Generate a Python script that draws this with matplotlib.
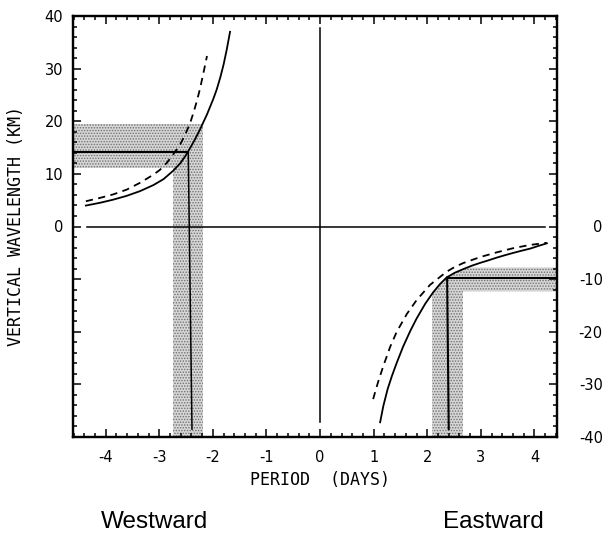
import numpy as np
import matplotlib
matplotlib.use("Agg")
import matplotlib.pyplot as plt
from matplotlib.ticker import MultipleLocator, FixedLocator, FixedFormatter

plt.rcParams['axes.unicode_minus'] = False
plt.rcParams['hatch.linewidth'] = 0.7

# ---- data ----
west_solid_x = [-4.37, -4.10, -3.86, -3.61, -3.36, -3.11, -2.92, -2.74, -2.61, -2.52, -2.46,
                -2.40, -2.33, -2.24, -2.11, -1.99, -1.93, -1.86, -1.80, -1.74, -1.68]
west_solid_y = [3.98, 4.52, 5.10, 5.82, 6.72, 7.87, 9.01, 10.6, 12.0, 13.3, 14.3,
                15.35, 16.65, 18.45, 21.3, 24.3, 26.0, 28.4, 30.8, 33.7, 37.0]
west_dash_x = [-4.37, -4.10, -3.86, -3.61, -3.36, -3.11, -2.99, -2.86, -2.74, -2.61, -2.52,
               -2.43, -2.36, -2.30, -2.24, -2.18, -2.11]
west_dash_y = [4.8, 5.45, 6.1, 7.0, 8.3, 9.85, 10.75, 12.1, 13.7, 15.6, 17.4,
               19.5, 21.7, 23.8, 26.2, 29.0, 32.4]

east_solid_x = [1.12, 1.18, 1.26, 1.34, 1.43, 1.55, 1.68, 1.80, 1.96, 2.11, 2.24, 2.36,
                2.51, 2.67, 2.83, 2.99, 3.15, 3.30, 3.45, 3.61, 3.76, 3.92, 4.07, 4.23]
east_solid_y = [-37.2, -34.1, -30.9, -28.4, -25.9, -22.8, -19.9, -17.5, -14.7, -12.5, -10.9, -9.7,
                -8.8, -8.1, -7.45, -6.9, -6.4, -5.9, -5.45, -5.0, -4.6, -4.2, -3.7, -3.2]
east_dash_x = [0.99, 1.04, 1.09, 1.18, 1.31, 1.43, 1.62, 1.80, 2.05, 2.36, 2.51, 2.67,
               2.99, 3.30, 3.61, 3.92, 4.23]
east_dash_y = [-32.8, -31.0, -29.3, -26.5, -22.8, -20.0, -16.6, -14.0, -11.1, -8.6, -7.7, -6.95,
               -5.8, -4.9, -4.1, -3.5, -3.1]

# observed period / wavelength ranges (shaded) and best estimates
west_period_range = [-2.74, -2.18]
west_lambda_range = [11.2, 19.5]
west_period = [-2.46, -2.39]
west_lambda = 14.2

east_period_range = [2.09, 2.67]
east_lambda_range = [-12.3, -7.8]
east_period = [2.37, 2.40]
east_lambda = -9.7

zero_h_x = [-4.34, 4.2]
zero_v_y = [37.8, -37.2]

x_ticks = [-4, -3, -2, -1, 0, 1, 2, 3, 4]
x_ticklabels = ['-4', '-3', '-2', '-1', '0', '1', '2', '3', '4']
left_ticks = [0, 10, 20, 30, 40]
right_ticks = [0, -10, -20, -30, -40]

XMIN, XMAX = -4.61, 4.42
YMIN, YMAX = -40, 40

# ---- figure ----
fig = plt.figure(figsize=(6.04, 5.34), dpi=100)
ax = fig.add_axes([73/604, 1-437/534, 484/604, 421/534])
ax.set_xlim(XMIN, XMAX)
ax.set_ylim(YMIN, YMAX)

shade = dict(facecolor='#d6d6d6', edgecolor='#707070', hatch='......', linewidth=0, zorder=1)

# westward shaded L-shape
ax.fill_between([XMIN, west_period_range[1]], west_lambda_range[0], west_lambda_range[1], **shade)
ax.fill_between(west_period_range, YMIN, west_lambda_range[0], **shade)

# eastward shaded region, bounded by the solid curve
xe = np.linspace(east_period_range[0], XMAX, 300)
ce = np.interp(xe, east_solid_x, east_solid_y)
xv = xe[xe <= east_period_range[1]]
ax.fill_between(xv, YMIN, np.minimum(east_lambda_range[1], ce[:len(xv)]), **shade)
up = np.minimum(east_lambda_range[1], ce)
ax.fill_between(xe, east_lambda_range[0], up, where=up > east_lambda_range[0], **shade)

lw = 1.3
# zero lines
ax.plot(zero_h_x, [0, 0], color='black', lw=1.1, zorder=3)
ax.plot([0, 0], zero_v_y, color='black', lw=1.1, zorder=3)

# curves
ax.plot(west_solid_x, west_solid_y, color='black', lw=lw, zorder=4)
ax.plot(west_dash_x, west_dash_y, color='black', lw=lw, ls=(0, (4, 3)), zorder=4)
ax.plot(east_solid_x, east_solid_y, color='black', lw=lw, zorder=4)
ax.plot(east_dash_x, east_dash_y, color='black', lw=lw, ls=(0, (4, 3)), zorder=4)

# estimate lines
ax.plot([XMIN, west_period[0]], [west_lambda, west_lambda], color='black', lw=1.5, zorder=4)
ax.plot(west_period, [west_lambda, -38.5], color='black', lw=1.1, zorder=4)
ax.plot([east_period[0], XMAX], [east_lambda, east_lambda], color='black', lw=1.5, zorder=4)
ax.plot(east_period, [east_lambda, -38.5], color='black', lw=1.5, zorder=4)

# spines and ticks
for s in ax.spines.values():
    s.set_linewidth(1.6)
ax.xaxis.set_major_locator(FixedLocator(x_ticks))
ax.xaxis.set_major_formatter(FixedFormatter(x_ticklabels))
ax.xaxis.set_minor_locator(MultipleLocator(0.2))
ax.yaxis.set_minor_locator(MultipleLocator(2))
yt = np.arange(-40, 41, 10)
ax.set_yticks(yt)
ax.set_yticklabels([str(v) if v in left_ticks else '' for v in yt])
ax.tick_params(which='both', direction='in', top=True, right=False, width=1.1, labelsize=10.5)
ax.tick_params(which='major', length=6)
ax.tick_params(which='minor', length=3)
ax.tick_params(axis='x', pad=9)
ax.tick_params(axis='y', pad=7)

ax2 = ax.twinx()
ax2.set_ylim(YMIN, YMAX)
ax2.yaxis.set_minor_locator(MultipleLocator(2))
ax2.set_yticks(yt)
ax2.set_yticklabels([str(v) if v in right_ticks else '' for v in yt])
ax2.tick_params(which='both', direction='in', width=1.1, labelsize=10.5)
ax2.tick_params(which='major', length=6, pad=33)
ax2.tick_params(which='minor', length=3)
for lab in ax2.get_yticklabels():
    lab.set_horizontalalignment('right')
for s in ax2.spines.values():
    s.set_linewidth(1.6)

mono = 'DejaVu Sans Mono'
ax.set_ylabel('VERTICAL WAVELENGTH (KM)', family=mono, fontsize=12)
ax.yaxis.set_label_coords(-0.10, 0.5)
ax.set_xlabel('PERIOD  (DAYS)', family=mono, fontsize=12)
ax.xaxis.set_label_coords(0.51, -0.081)

fig.text(155/604, 1-522/534, 'Westward', family='Liberation Sans', fontsize=17.5, ha='center', va='center')
fig.text(493/604, 1-522/534, 'Eastward', family='Liberation Sans', fontsize=17.5, ha='center', va='center')

fig.savefig('out.png', dpi=100)
